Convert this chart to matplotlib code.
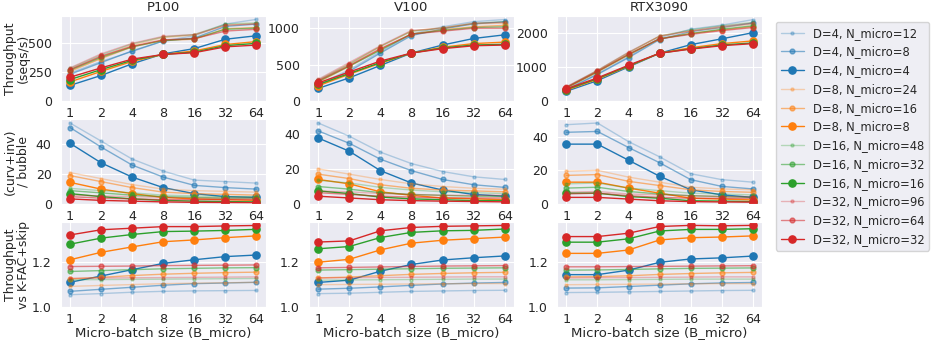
import matplotlib
matplotlib.use("Agg")
import matplotlib.pyplot as plt
import seaborn as sns
from matplotlib.ticker import NullLocator

# Micro-batch sizes (x axis)
b_micro = [1, 2, 4, 8, 16, 32, 64]

# (D, N_micro) configurations, in legend order
configs = [(4, 12), (4, 8), (4, 4),
           (8, 24), (8, 16), (8, 8),
           (16, 48), (16, 32), (16, 16),
           (32, 96), (32, 64), (32, 32)]

gpus = ["P100", "V100", "RTX3090"]

# Throughput (seqs/s), one row per config
p100_tput = [
    [240, 340, 425, 515, 560, 660, 700],
    [230, 330, 430, 515, 540, 640, 660],
    [135, 220, 320, 405, 450, 530, 560],
    [270, 380, 480, 545, 565, 650, 665],
    [255, 365, 465, 520, 530, 620, 630],
    [165, 255, 340, 400, 430, 485, 510],
    [280, 395, 490, 550, 570, 660, 670],
    [265, 375, 465, 520, 535, 615, 625],
    [185, 270, 350, 400, 420, 475, 495],
    [285, 405, 495, 555, 570, 650, 660],
    [270, 385, 470, 525, 535, 600, 615],
    [205, 285, 360, 400, 415, 465, 480],
]
v100_tput = [
    [230, 430, 680, 920, 1020, 1090, 1120],
    [210, 410, 660, 900, 990, 1060, 1090],
    [175, 320, 490, 660, 770, 860, 910],
    [280, 510, 750, 960, 1010, 1060, 1070],
    [260, 480, 710, 920, 980, 1020, 1040],
    [210, 370, 520, 660, 740, 790, 810],
    [290, 510, 750, 960, 1000, 1070, 1090],
    [270, 480, 700, 920, 970, 1010, 1020],
    [230, 380, 530, 660, 730, 770, 780],
    [300, 530, 760, 970, 1000, 1070, 1080],
    [280, 490, 720, 920, 960, 1000, 1000],
    [250, 400, 550, 660, 720, 760, 770],
]
rtx_tput = [
    [350, 800, 1300, 1850, 2100, 2220, 2380],
    [330, 780, 1270, 1800, 2030, 2150, 2280],
    [290, 600, 1000, 1400, 1650, 1820, 2000],
    [400, 880, 1400, 1900, 2050, 2150, 2250],
    [380, 850, 1350, 1820, 1980, 2080, 2180],
    [320, 640, 1020, 1400, 1560, 1680, 1760],
    [410, 900, 1420, 1900, 2080, 2200, 2300],
    [390, 860, 1360, 1820, 1970, 2100, 2200],
    [340, 660, 1030, 1400, 1530, 1640, 1700],
    [420, 900, 1430, 1900, 2050, 2180, 2280],
    [400, 870, 1370, 1820, 1950, 2060, 2150],
    [360, 680, 1050, 1400, 1520, 1620, 1680],
]

# (curv+inv) / bubble ratio
p100_ratio = [
    [54, 42, 30, 22, 16, 15, 14],
    [51, 38, 26, 18, 12.5, 11, 10],
    [40.5, 27.5, 18, 11, 7, 5, 4.5],
    [21, 17, 13, 10, 9, 8.5, 8],
    [19, 15, 11, 8, 7, 6.5, 6],
    [14.5, 10, 7, 4.5, 3.5, 3, 2.5],
    [10.5, 9, 7.5, 6, 5.5, 5, 5],
    [9, 7.5, 6, 5, 4.5, 4, 4],
    [7, 5, 3.5, 2.5, 2, 1.7, 1.5],
    [6, 5.5, 5, 4.5, 4, 4, 4],
    [5, 4, 3.5, 3, 3, 3, 3],
    [3.5, 2.5, 2, 1.5, 1.2, 1.1, 1],
]
v100_ratio = [
    [46, 38.5, 29.5, 23, 18.5, 15.5, 14],
    [41.5, 34.5, 25.5, 19, 14, 11, 9.5],
    [37.5, 30, 19, 12, 8, 5.5, 4.5],
    [20, 17, 14, 11.5, 10, 9, 8.5],
    [17, 14.5, 11, 9, 8, 7.5, 7],
    [14, 11.5, 7, 5, 3.5, 3, 2.5],
    [13.5, 12, 9.5, 8, 7, 6.5, 6],
    [10, 8.5, 6.5, 5.5, 5, 4.5, 4.5],
    [7.5, 6, 4, 3, 2.5, 2, 2],
    [7.5, 7, 6, 5.5, 5, 5, 5],
    [6.5, 5.5, 4.5, 4, 3.5, 3.5, 3.5],
    [4.5, 3.5, 2.5, 2, 1.7, 1.5, 1.3],
]
rtx_ratio = [
    [47, 48, 37, 28, 18, 14.5, 13],
    [42.5, 43, 33.5, 24.5, 14.5, 10.5, 9],
    [35.5, 35.5, 26, 16.5, 8.5, 5.5, 4],
    [19.5, 20, 16, 13, 10, 9, 8.5],
    [17, 17.5, 13.5, 11, 8.5, 7.5, 7],
    [13, 13, 9.5, 6.5, 3.5, 3, 2.5],
    [12, 12.5, 9.5, 8, 6.5, 6, 5.5],
    [9.5, 10, 7.5, 6, 5, 4.5, 4],
    [6.5, 6.5, 4.5, 3.5, 2, 1.8, 1.5],
    [7, 7.5, 6, 5.5, 5, 4.5, 4.5],
    [6, 6.5, 5, 4, 3.5, 3.5, 3.5],
    [4, 4, 3, 2, 1.5, 1.3, 1.2],
]

# Throughput relative to K-FAC+skip
p100_speedup = [
    [1.055, 1.060, 1.066, 1.070, 1.072, 1.073, 1.074],
    [1.070, 1.079, 1.088, 1.097, 1.104, 1.107, 1.110],
    [1.110, 1.138, 1.166, 1.194, 1.210, 1.224, 1.231],
    [1.092, 1.096, 1.100, 1.104, 1.106, 1.108, 1.110],
    [1.125, 1.132, 1.140, 1.146, 1.150, 1.153, 1.155],
    [1.210, 1.243, 1.267, 1.290, 1.298, 1.308, 1.316],
    [1.121, 1.122, 1.123, 1.124, 1.125, 1.126, 1.127],
    [1.158, 1.162, 1.166, 1.170, 1.172, 1.174, 1.175],
    [1.279, 1.306, 1.322, 1.335, 1.337, 1.340, 1.345],
    [1.128, 1.129, 1.130, 1.131, 1.132, 1.133, 1.134],
    [1.180, 1.181, 1.182, 1.184, 1.185, 1.186, 1.187],
    [1.320, 1.343, 1.350, 1.357, 1.357, 1.360, 1.362],
]
v100_speedup = [
    [1.060, 1.062, 1.066, 1.070, 1.072, 1.074, 1.075],
    [1.080, 1.084, 1.090, 1.097, 1.103, 1.107, 1.110],
    [1.110, 1.120, 1.160, 1.190, 1.210, 1.220, 1.228],
    [1.100, 1.101, 1.102, 1.103, 1.104, 1.105, 1.105],
    [1.130, 1.134, 1.140, 1.146, 1.150, 1.153, 1.155],
    [1.200, 1.213, 1.255, 1.285, 1.298, 1.305, 1.312],
    [1.120, 1.121, 1.122, 1.123, 1.124, 1.125, 1.125],
    [1.165, 1.167, 1.169, 1.171, 1.173, 1.174, 1.175],
    [1.260, 1.270, 1.310, 1.333, 1.340, 1.342, 1.348],
    [1.130, 1.131, 1.132, 1.133, 1.134, 1.135, 1.135],
    [1.175, 1.177, 1.179, 1.181, 1.183, 1.184, 1.185],
    [1.290, 1.295, 1.340, 1.355, 1.360, 1.362, 1.364],
]
rtx_speedup = [
    [1.065, 1.066, 1.068, 1.070, 1.072, 1.074, 1.075],
    [1.085, 1.086, 1.092, 1.098, 1.104, 1.108, 1.110],
    [1.145, 1.145, 1.165, 1.200, 1.215, 1.220, 1.228],
    [1.100, 1.101, 1.102, 1.103, 1.104, 1.105, 1.105],
    [1.135, 1.136, 1.140, 1.146, 1.150, 1.153, 1.155],
    [1.240, 1.240, 1.255, 1.300, 1.310, 1.313, 1.318],
    [1.122, 1.122, 1.123, 1.124, 1.125, 1.125, 1.125],
    [1.165, 1.166, 1.168, 1.171, 1.173, 1.174, 1.175],
    [1.290, 1.290, 1.305, 1.340, 1.347, 1.347, 1.350],
    [1.130, 1.131, 1.132, 1.133, 1.134, 1.135, 1.135],
    [1.180, 1.180, 1.181, 1.182, 1.183, 1.184, 1.185],
    [1.315, 1.315, 1.330, 1.360, 1.365, 1.363, 1.365],
]

rows = [
    [p100_tput, v100_tput, rtx_tput],
    [p100_ratio, v100_ratio, rtx_ratio],
    [p100_speedup, v100_speedup, rtx_speedup],
]
row_labels = ["Throughput\n(seqs/s)", "(curv+inv)\n/ bubble", "Throughput\nvs K-FAC+skip"]
row_bottom = [0, 0, 1.0]
row_yticks = [
    [[0, 250, 500], [0, 500, 1000], [0, 1000, 2000]],
    [[0, 20, 40]] * 3,
    [[1.0, 1.2]] * 3,
]

d_colors = {4: "tab:blue", 8: "tab:orange", 16: "tab:green", 32: "tab:red"}

sns.set_style("darkgrid")
plt.rcParams["font.family"] = ["DejaVu Sans"]

fig, axes = plt.subplots(3, 3, figsize=(9.34, 3.42), dpi=100)
fig.subplots_adjust(left=0.065, right=0.816, top=0.953, bottom=0.102,
                    wspace=0.21, hspace=0.21)

for r in range(3):
    for c in range(3):
        ax = axes[r, c]
        data = rows[r][c]
        for (d, n), ys in zip(configs, data):
            k = n // d
            if k == 3:
                alpha, ms = 0.3, 2.2
            elif k == 2:
                alpha, ms = 0.55, 3.5
            else:
                alpha, ms = 1.0, 5.2
            ax.plot(b_micro, ys, marker="o", color=d_colors[d], alpha=alpha,
                    markersize=ms, linewidth=1.0,
                    label=f"D={d}, N_micro={n}")
        ax.set_xscale("log", base=2)
        ax.set_xticks(b_micro)
        ax.set_xticklabels([str(b) for b in b_micro])
        ax.xaxis.set_minor_locator(NullLocator())
        ax.set_ylim(bottom=row_bottom[r])
        ax.set_yticks(row_yticks[r][c])
        if r == 2:
            ax.set_yticklabels(["1.0", "1.2"])
        ax.tick_params(axis="x", labelsize=9.2, pad=1)
        ax.tick_params(axis="y", labelsize=9, pad=3)
        if r == 0:
            ax.set_title(gpus[c], fontsize=9.5, pad=4)
        if c == 0:
            ax.set_ylabel(row_labels[r], fontsize=9, linespacing=1.0)
            ax.yaxis.set_label_coords(-0.152, 0.5)
        if r == 2:
            ax.set_xlabel("Micro-batch size (B_micro)", fontsize=9.5, labelpad=0)

handles, labels = axes[0, 0].get_legend_handles_labels()
fig.legend(handles, labels, loc="upper left", bbox_to_anchor=(776 / 934, 1 - 22 / 342),
           borderaxespad=0, fontsize=8.3, labelspacing=0.5)

plt.savefig("out.png", dpi=100)
